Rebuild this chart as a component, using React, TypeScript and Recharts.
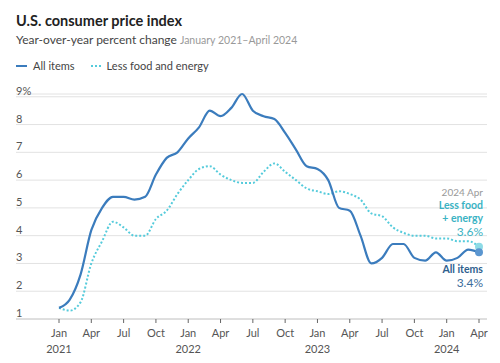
import { CartesianGrid, Line, LineChart, ReferenceDot, XAxis, YAxis } from "recharts";

// monthly YoY % change, Jan 2021 – Apr 2024
const allItems = [
  1.4, 1.7, 2.6, 4.2, 5.0, 5.4, 5.4, 5.3, 5.4, 6.2, 6.8, 7.0,
  7.5, 7.9, 8.5, 8.3, 8.6, 9.1, 8.5, 8.3, 8.2, 7.7, 7.1, 6.5,
  6.4, 6.0, 5.0, 4.9, 4.0, 3.0, 3.2, 3.7, 3.7, 3.2, 3.1, 3.4,
  3.1, 3.2, 3.5, 3.4,
];
const lessFoodEnergy = [
  1.4, 1.3, 1.6, 3.0, 3.8, 4.5, 4.3, 4.0, 4.0, 4.6, 4.9, 5.5,
  6.0, 6.4, 6.5, 6.2, 6.0, 5.9, 5.9, 6.3, 6.6, 6.3, 6.0, 5.7,
  5.6, 5.5, 5.6, 5.5, 5.3, 4.8, 4.7, 4.3, 4.1, 4.0, 4.0, 3.9,
  3.9, 3.8, 3.8, 3.6,
];
const tickMonths = ["Jan", "Apr", "Jul", "Oct", "Jan", "Apr", "Jul", "Oct", "Jan", "Apr", "Jul", "Oct", "Jan", "Apr"];
const tickYears = ["2021", "", "", "", "2022", "", "", "", "2023", "", "", "", "2024", ""];
const yTicks = [1, 2, 3, 4, 5, 6, 7, 8, 9];

const data = allItems.map((value, i) => ({ m: i, all: value, core: lessFoodEnergy[i] }));
const xTicks = tickMonths.map((_, i) => i * 3);
const last = data.length - 1;

const FONT = "Lato, 'Open Sans', sans-serif";
const BLUE = "#3b7cbd";
const CYAN = "#55cbdb";

function MonthTick({ x, y, payload }: any) {
  const i = Math.round(payload.value / 3);
  return (
    <g transform={`translate(${x},${y})`}>
      <text y={12} textAnchor="middle" fontSize={11} fill="#555" fontFamily={FONT}>
        {tickMonths[i]}
      </text>
      {tickYears[i] && (
        <text y={28} textAnchor="middle" fontSize={11} fill="#555" fontFamily={FONT}>
          {tickYears[i]}
        </text>
      )}
    </g>
  );
}

function PctTick({ y, payload }: any) {
  return (
    <text x={16} y={y - 2} fontSize={11} fill="#555" fontFamily={FONT}>
      {payload.value === 9 ? "9%" : payload.value}
    </text>
  );
}

export default function App() {
  return (
    <div style={{ position: "absolute", left: 0, top: 0, width: 500, height: 363, background: "#fff", fontFamily: FONT }}>
      <div style={{ position: "absolute", left: 16, top: 12, fontSize: 14.5, fontWeight: 700, color: "#222" }}>
        U.S. consumer price index
      </div>
      <div style={{ position: "absolute", left: 16, top: 32, fontSize: 12, color: "#444", whiteSpace: "nowrap" }}>
        Year-over-year percent change{" "}
        <span style={{ fontSize: 10.5, color: "#999" }}>January 2021–April 2024</span>
      </div>
      <div style={{ position: "absolute", left: 16, top: 59, fontSize: 11, color: "#444", display: "flex", alignItems: "center", whiteSpace: "nowrap" }}>
        <span style={{ width: 11, height: 0, borderTop: `2px solid ${BLUE}`, marginRight: 6 }} />
        All items
        <span style={{ width: 10, height: 0, borderTop: `2px dotted ${CYAN}`, marginLeft: 16, marginRight: 6 }} />
        Less food and energy
      </div>

      <LineChart width={500} height={363} data={data} margin={{ top: 94, right: 13, bottom: 14, left: 15 }}>
        <CartesianGrid vertical={false} stroke="#e2e2e2" />
        <XAxis
          type="number"
          dataKey="m"
          domain={[0, 39]}
          ticks={xTicks}
          height={30}
          padding={{ left: 43, right: 8 }}
          axisLine={{ stroke: "#ccc" }}
          tickLine={{ stroke: "#666" }}
          tickSize={4}
          tick={<MonthTick />}
          interval={0}
        />
        <YAxis domain={[1, 9]} ticks={yTicks} width={1} axisLine={false} tickLine={false} tick={<PctTick />} interval={0} />
        <Line
          type="monotone"
          dataKey="core"
          stroke={CYAN}
          strokeWidth={2}
          strokeDasharray="2 2"
          dot={false}
          isAnimationActive={false}
        />
        <Line type="monotone" dataKey="all" stroke={BLUE} strokeWidth={2.2} dot={false} isAnimationActive={false} />
        <ReferenceDot x={last} y={lessFoodEnergy[last]} r={4} fill="#8edbe6" stroke="none" />
        <ReferenceDot x={last} y={allItems[last]} r={4} fill="#5b96d0" stroke="none" />
      </LineChart>

      <div style={{ position: "absolute", right: 17, top: 186, textAlign: "right", lineHeight: "13px" }}>
        <div style={{ fontSize: 10, color: "#999" }}>2024 Apr</div>
        <div style={{ fontSize: 10.5, fontWeight: 700, color: "#3ab3c4" }}>Less food</div>
        <div style={{ fontSize: 10.5, fontWeight: 700, color: "#3ab3c4" }}>+ energy</div>
        <div style={{ fontSize: 12, color: "#3ab3c4" }}>3.6%</div>
      </div>
      <div style={{ position: "absolute", right: 17, top: 263, textAlign: "right", lineHeight: "13px" }}>
        <div style={{ fontSize: 10.5, fontWeight: 700, color: "#2e5f8e" }}>All items</div>
        <div style={{ fontSize: 12, color: "#3b6d9c" }}>3.4%</div>
      </div>
    </div>
  );
}
